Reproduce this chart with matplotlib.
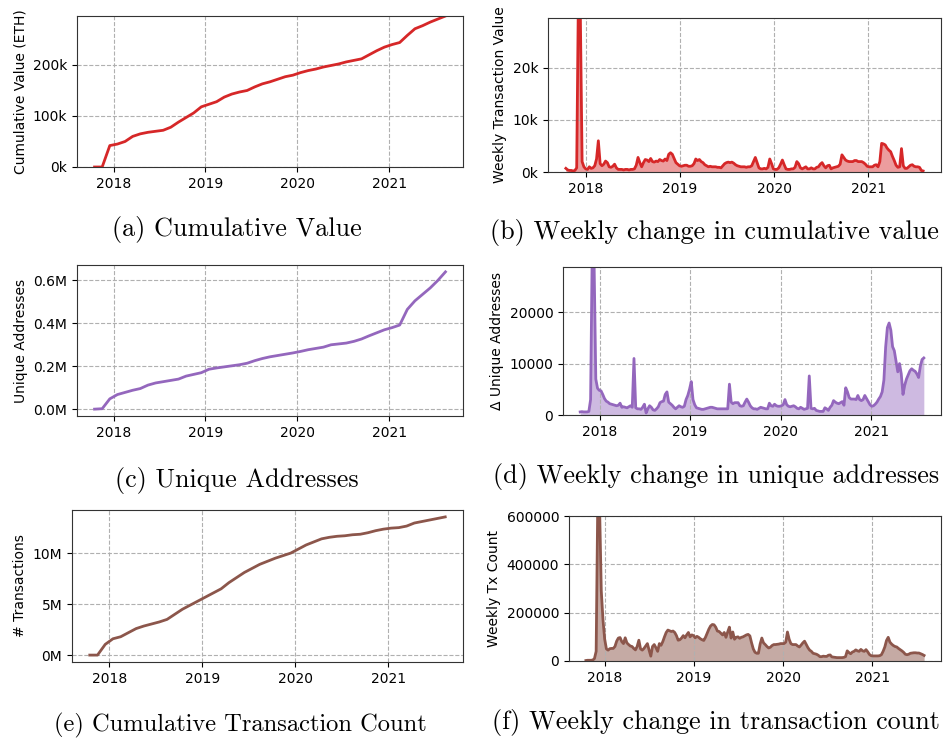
import numpy as np
import pandas as pd
import matplotlib
matplotlib.use("Agg")
import matplotlib.pyplot as plt
import matplotlib.dates as mdates
from matplotlib.ticker import MultipleLocator, FuncFormatter

# weekly series (one value per week, starting mid Oct 2017)
week_dates = pd.date_range("2017-10-15", periods=199, freq="7D")
# cumulative series, read off roughly once a month
cum_dates = pd.date_range("2017-10-17", "2021-08-12", periods=47)

cum_value_k = [0, 0, 42, 45, 50, 60, 65, 68, 70, 72, 78, 88, 97, 106, 118, 123,
               128, 137, 143, 147, 150, 157, 163, 167, 172, 177, 180, 185, 189,
               192, 196, 199, 202, 206, 209, 212, 220, 228, 235, 240, 244, 258,
               271, 277, 284, 290, 296]
cum_addr_k = [0, 2, 48, 68, 78, 88, 96, 112, 122, 128, 134, 140, 154, 162, 170,
              186, 192, 197, 202, 207, 214, 226, 236, 244, 250, 256, 262, 269,
              277, 283, 289, 300, 304, 308, 316, 327, 342, 356, 370, 380, 392,
              465, 505, 535, 565, 600, 640]
cum_tx_m = [0, 0, 1.05, 1.6, 1.8, 2.2, 2.6, 2.85, 3.05, 3.25, 3.5, 4.0, 4.5, 4.9,
            5.3, 5.7, 6.1, 6.5, 7.1, 7.6, 8.1, 8.5, 8.9, 9.2, 9.5, 9.75, 10.0,
            10.4, 10.8, 11.1, 11.4, 11.55, 11.65, 11.7, 11.8, 11.85, 12.0, 12.2,
            12.35, 12.45, 12.5, 12.65, 12.95, 13.1, 13.25, 13.4, 13.55]

weekly_value_k = [
    0.7, 0.4, 0.3, 0.3, 0.2, 0.3, 0.8, 36, 31, 2,
    1.0, 0.6, 0.5, 1.0, 0.7, 0.8, 1.2, 2.5, 6.0, 1.6,
    1.2, 1.5, 2.1, 1.8, 1.0, 0.9, 1.1, 1.5, 0.8, 0.5,
    0.5, 0.5, 0.4, 0.5, 0.5, 0.4, 0.5, 0.5, 0.6, 1.3,
    2.8, 1.8, 1.0, 1.8, 2.4, 2.3, 2.0, 2.6, 2.0, 1.9,
    2.1, 2.0, 2.4, 2.2, 2.1, 2.5, 2.2, 3.4, 3.7, 3.4,
    2.6, 1.8, 1.5, 1.2, 1.1, 1.2, 1.3, 1.3, 1.1, 1.1,
    1.2, 1.6, 2.5, 2.2, 2.4, 2.0, 1.8, 1.4, 1.2, 1.0,
    1.1, 1.0, 1.0, 1.0, 0.9, 0.9, 0.8, 1.2, 1.6, 1.8,
    1.9, 1.8, 1.9, 1.7, 1.4, 1.2, 1.1, 1.0, 1.0, 1.0,
    0.9, 1.0, 1.0, 1.2, 2.0, 2.8, 1.8, 0.8, 0.6, 0.6,
    0.7, 0.6, 0.9, 2.5, 1.6, 0.6, 0.5, 0.5, 0.8, 1.5,
    2.3, 1.4, 0.6, 0.5, 0.5, 0.6, 0.6, 0.9, 2.0, 1.6,
    0.8, 0.6, 0.8, 1.0, 0.6, 0.6, 0.8, 0.6, 0.6, 0.9,
    1.0, 1.5, 1.8, 1.2, 0.8, 1.2, 1.3, 0.6, 0.8, 0.9,
    1.0, 1.1, 1.5, 3.3, 2.8, 2.3, 2.1, 2.0, 2.0, 2.0,
    2.2, 2.2, 2.0, 2.0, 2.0, 1.8, 1.5, 1.1, 1.0, 1.0,
    1.0, 1.3, 1.4, 1.0, 2.0, 5.5, 5.4, 5.2, 4.6, 4.2,
    3.9, 3.0, 2.2, 1.3, 0.9, 1.0, 4.5, 1.2, 0.7, 0.7,
    1.0, 1.3, 1.4, 1.1, 1.0, 1.0, 0.9, 0.3, 0.2]

weekly_addr_k = [
    0.6, 0.65, 0.6, 0.6, 0.6, 0.7, 3.0, 34, 30, 7.0,
    5.2, 4.8, 4.7, 4.0, 3.2, 2.7, 2.5, 2.2, 2.1, 2.0,
    1.9, 1.8, 1.9, 2.3, 1.5, 1.6, 1.5, 1.4, 1.6, 1.8,
    1.5, 11.0, 1.4, 1.2, 1.2, 1.1, 1.5, 2.1, 0.4, 1.2,
    1.8, 1.5, 1.0, 0.9, 1.2, 1.6, 2.4, 2.6, 2.7, 4.0,
    4.5, 2.5, 2.2, 1.9, 1.5, 1.2, 1.5, 1.8, 1.6, 1.5,
    1.7, 3.0, 3.8, 5.0, 6.5, 3.0, 2.0, 1.4, 1.3, 1.2,
    1.1, 1.1, 1.2, 1.3, 1.4, 1.5, 1.5, 1.4, 1.3, 1.2,
    1.2, 1.2, 1.2, 1.2, 1.2, 1.2, 6.0, 2.5, 2.2, 2.4,
    2.4, 2.4, 1.8, 1.7, 1.8, 2.5, 3.1, 2.5, 1.8, 1.4,
    1.2, 1.2, 1.1, 1.3, 1.5, 1.4, 1.3, 1.2, 1.2, 2.3,
    1.8, 1.7, 2.1, 1.8, 1.7, 1.7, 1.8, 2.0, 3.0, 2.0,
    1.7, 1.6, 1.7, 1.8, 1.6, 1.3, 1.2, 1.5, 1.3, 1.1,
    1.2, 1.3, 7.6, 1.3, 1.2, 1.3, 0.9, 0.8, 0.7, 0.7,
    0.7, 1.4, 1.2, 0.9, 1.5, 1.9, 2.8, 2.5, 2.3, 2.2,
    2.4, 2.6, 1.9, 5.3, 4.5, 3.4, 3.1, 3.1, 3.1, 3.0,
    3.8, 3.0, 2.8, 3.0, 3.8, 3.2, 2.6, 2.0, 1.7, 1.8,
    2.1, 2.5, 3.1, 3.6, 4.5, 6.8, 13.2, 17.0, 17.9, 16.5,
    13.3, 12.5, 10.5, 8.4, 10.0, 8.0, 4.0, 5.8, 7.0, 7.8,
    8.6, 9.0, 8.7, 8.5, 8.0, 7.3, 9.5, 10.8, 11.1]

weekly_tx_k = [
    2, 3, 3, 3, 4, 10, 40, 700, 640, 290,
    170, 90, 50, 45, 51, 52, 52, 60, 82, 95,
    97, 80, 72, 96, 75, 68, 62, 60, 52, 46,
    60, 86, 50, 45, 52, 62, 72, 45, 20, 60,
    68, 55, 40, 72, 65, 80, 100, 118, 128, 125,
    122, 124, 118, 105, 86, 88, 95, 105, 96, 108,
    118, 100, 108, 105, 96, 102, 98, 92, 88, 85,
    98, 115, 132, 145, 151, 150, 140, 124, 122, 115,
    108, 118, 98, 120, 140, 95, 120, 90, 98, 100,
    94, 98, 100, 104, 108, 110, 104, 75, 50, 36,
    32, 32, 70, 95, 75, 68, 60, 54, 57, 64,
    68, 68, 69, 70, 72, 72, 72, 78, 120, 90,
    72, 68, 68, 68, 62, 58, 66, 75, 82, 68,
    55, 45, 40, 32, 30, 28, 24, 18, 18, 20,
    19, 19, 24, 25, 17, 16, 15, 14, 14, 14,
    14, 15, 18, 42, 35, 30, 37, 40, 46, 42,
    40, 48, 42, 40, 47, 38, 27, 22, 21, 21,
    21, 21, 22, 26, 40, 58, 85, 98, 78, 70,
    64, 60, 58, 52, 47, 42, 36, 28, 26, 28,
    32, 33, 34, 34, 33, 33, 30, 27, 23]

RED, PURPLE, BROWN = "#d62728", "#9467bd", "#8c564b"

fig = plt.figure(figsize=(9.43, 7.40), dpi=100)
W, H = 943, 740


def add_axes(left, top, right, bottom):
    return fig.add_axes([left / W, 1 - bottom / H, (right - left) / W, (bottom - top) / H])


def style(ax):
    ax.grid(True, linestyle="--", color="#b0b0b0", linewidth=0.8)
    ax.xaxis.set_major_locator(mdates.YearLocator())
    ax.xaxis.set_major_formatter(mdates.DateFormatter("%Y"))
    for sp in ax.spines.values():
        sp.set_edgecolor("#333333")


def caption(x, y, s, size=18.8):
    fig.text(x / W, 1 - y / H, s, ha="center", va="center",
             fontfamily="cmr10", fontsize=size)


# (a)
ax = add_axes(77, 16, 463, 167)
vals = np.array(cum_value_k) * 1000
ax.plot(cum_dates, vals, color=RED, lw=2)
ax.set_ylim(0, vals.max())
ax.yaxis.set_major_locator(MultipleLocator(100000))
ax.yaxis.set_major_formatter(FuncFormatter(lambda v, p: f"{v / 1000:.0f}k"))
ax.set_ylabel("Cumulative Value (ETH)")
style(ax)
caption(237, 230, "(a) Cumulative Value")

# (b)
ax = add_axes(548, 18, 941, 172)
vals = np.array(weekly_value_k) * 1000
ax.plot(week_dates, vals, color=RED, lw=2)
ax.fill_between(week_dates, vals, 0, color=RED, alpha=0.45, lw=0)
ax.set_ylim(0, 29600)
ax.yaxis.set_major_locator(MultipleLocator(10000))
ax.yaxis.set_major_formatter(FuncFormatter(lambda v, p: f"{v / 1000:.0f}k"))
ax.set_ylabel("Weekly Transaction Value")
style(ax)
caption(714, 233, "(b) Weekly change in cumulative value")

# (c)
ax = add_axes(77, 265, 463, 416)
vals = np.array(cum_addr_k) * 1000
ax.plot(cum_dates, vals, color=PURPLE, lw=2)
ax.yaxis.set_major_locator(MultipleLocator(200000))
ax.yaxis.set_major_formatter(FuncFormatter(lambda v, p: f"{v / 1e6:.1f}M"))
ax.set_ylabel("Unique Addresses")
style(ax)
caption(237, 480, "(c) Unique Addresses")

# (d)
ax = add_axes(563, 267, 941, 415)
vals = np.array(weekly_addr_k) * 1000
ax.plot(week_dates, vals, color=PURPLE, lw=2)
ax.fill_between(week_dates, vals, 0, color=PURPLE, alpha=0.45, lw=0)
ax.set_ylim(0, 28800)
ax.yaxis.set_major_locator(MultipleLocator(10000))
ax.set_ylabel("\u0394 Unique Addresses")
style(ax)
caption(716, 477, "(d) Weekly change in unique addresses")

# (e)
ax = add_axes(72, 510, 463, 662)
vals = np.array(cum_tx_m) * 1e6
ax.plot(cum_dates, vals, color=BROWN, lw=2)
ax.yaxis.set_major_locator(MultipleLocator(5e6))
ax.yaxis.set_major_formatter(FuncFormatter(lambda v, p: f"{v / 1e6:.0f}M"))
ax.set_ylabel("# Transactions")
style(ax)
caption(240, 725, "(e) Cumulative Transaction Count", size=17.6)

# (f)
ax = add_axes(569, 516, 941, 661)
vals = np.array(weekly_tx_k) * 1000
ax.plot(week_dates, vals, color=BROWN, lw=2)
ax.fill_between(week_dates, vals, 0, color=BROWN, alpha=0.5, lw=0)
ax.set_ylim(0, 600000)
ax.yaxis.set_major_locator(MultipleLocator(200000))
ax.yaxis.set_major_formatter(FuncFormatter(lambda v, p: f"{v:.0f}"))
ax.set_ylabel("Weekly Tx Count")
style(ax)
caption(716, 722, "(f) Weekly change in transaction count")

fig.savefig("out.png", dpi=100)
